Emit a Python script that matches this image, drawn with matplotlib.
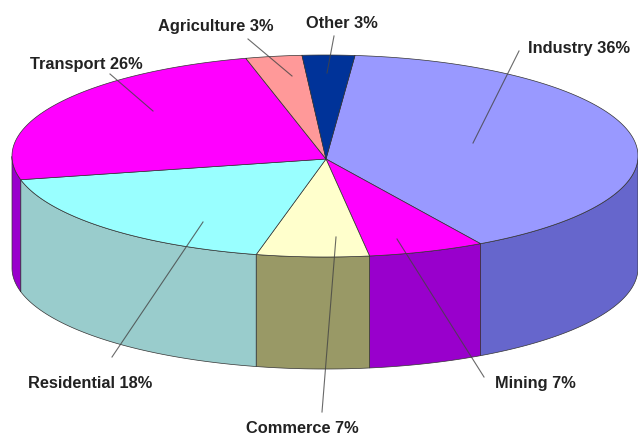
import matplotlib
matplotlib.use('Agg')
import matplotlib.pyplot as plt
import numpy as np

names = ['Industry', 'Mining', 'Commerce', 'Residential', 'Transport', 'Agriculture', 'Other']
percents = [36, 7, 7, 18, 26, 3, 3]
# slice sizes as drawn in the picture, the tilted pie is not true to the labels
drawn = [40.2, 6.0, 5.8, 17.7, 24.7, 2.9, 2.7]
top_colors = ['#9999ff', '#ff00ff', '#ffffcc', '#99ffff', '#ff00ff', '#ff9999', '#003399']
wall_colors = ['#6666cc', '#9900cc', '#999966', '#99cccc', '#9900cc', '#cc6666', '#002266']
label_pos = [(579, 48), (535, 384), (302, 429), (90, 384), (86, 65), (216, 27), (342, 24)]
leader_ends = [((519, 52), (473, 144)), ((484, 378), (397, 240)), ((322, 413), (336, 238)),
               ((112, 358), (203, 223)), ((110, 75), (153, 112)), ((248, 40), (292, 77)),
               ((334, 37), (327, 74))]

cx, cy = 325, 157
apex = (326, 160)
rx, ry = 313, 101
depth = 112
start = 84.5

fig = plt.figure(figsize=(6.38, 4.39), dpi=100)
ax = fig.add_axes([0, 0, 1, 1])
ax.set_xlim(0, 638)
ax.set_ylim(439, 0)
ax.axis('off')

edges = start - np.cumsum([0] + drawn)*3.6
for i in range(len(drawn)):
    tt = np.linspace(edges[i], edges[i+1], 200)
    t = np.radians(tt)
    x = cx + rx*np.cos(t)
    y = cy - ry*np.sin(t)
    # outer wall, only the part facing the viewer
    front = np.sin(t) <= 0
    if front.sum() > 1:
        ax.fill(np.r_[x[front], x[front][::-1]], np.r_[y[front], y[front][::-1] + depth],
                fc=wall_colors[i], ec='#333333', lw=0.5, zorder=2)
    ax.fill(np.r_[apex[0], x], np.r_[apex[1], y], fc=top_colors[i], ec='#333333', lw=0.5, zorder=3)

for i in range(len(names)):
    (x0, y0), (x1, y1) = leader_ends[i]
    ax.plot([x0, x1], [y0, y1], color='#444444', lw=0.8, alpha=0.8, zorder=4)
    ax.text(label_pos[i][0], label_pos[i][1], '%s %d%%' % (names[i], percents[i]),
            family=['Liberation Sans Narrow', 'Liberation Sans'], fontsize=11.8, fontweight='bold',
            color='#222222', ha='center', va='center', zorder=5)

fig.savefig('out.png', dpi=100)
